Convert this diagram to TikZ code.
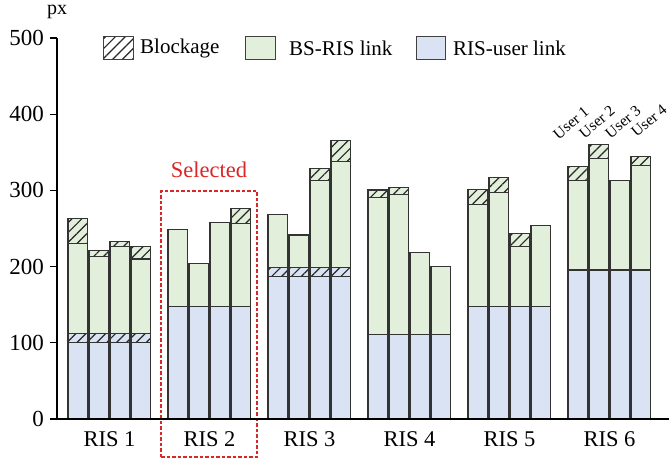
\documentclass[tikz,border=0pt]{standalone}
\usepackage{fontspec}
\setmainfont{Liberation Serif}
\usetikzlibrary{patterns.meta}
\definecolor{linkg}{HTML}{E2EFDA}
\definecolor{linkb}{HTML}{DAE3F3}
\definecolor{selred}{rgb}{0.85,0.15,0.15}
% one plain bar segment: x, bottom, top, colour
\newcommand\plainseg[4]{\draw[barline, fill=#4] (#1,#2) rectangle ({#1+19.5},#3);}
% one blocked segment: coloured ground with hatching on top
\newcommand\hatchseg[4]{\fill[#4] (#1,#2) rectangle ({#1+19.5},#3);
  \draw[barline, hatch] (#1,#2) rectangle ({#1+19.5},#3);}
\begin{document}
\begin{tikzpicture}[x=1pt,y=1pt,
  barline/.style={draw=black!80, line width=1.1pt},
  hatch/.style={pattern={Lines[angle=45,distance=7pt,line width=1.2pt]}, pattern color=black!85},
  lab/.style={font=\fontsize{21}{21}\selectfont, inner sep=0pt},
  ulab/.style={font=\fontsize{15.5}{15.5}\selectfont, inner sep=0pt, rotate=40}]
\useasboundingbox (0,0) rectangle (669,459);

% highlighted group
\begin{scope}[color=selred]
\draw[line width=1.2pt, dash pattern=on 3.5pt off 2pt] (161,2) -- (257,2) -- (257,268) -- (161,268) -- cycle;
\node[lab, font=\fontsize{22.5}{22.5}\selectfont] (sel) at (209,289) {Selected};
\end{scope}

% stacked bars: group, RIS-user top, its blockage top, {bar/BS-RIS top/total}
\begin{scope}[shift={(0,40)}, y=0.762pt]
\foreach \g/\b/\bb/\bars in {
  0/100/112/{0/230/263,1/213/221,2/226.5/232.5,3/210/226},
  1/148/148/{0/249/249,1/204/204,2/257.5/257.5,3/256/276},
  2/187.5/199/{0/268/268,1/241.5/241.5,2/312.5/328.5,3/338/365},
  3/111/111/{0/291/300.5,1/294.5/303.5,2/218/218,3/200/200},
  4/148/148/{0/281.5/301.5,1/297.5/316.5,2/226/243,3/253.5/253.5},
  5/195.5/195.5/{0/313/331,1/342/360.5,2/313/313,3/332.5/344}}{
  \foreach \i/\gt/\t in \bars {
    \pgfmathsetmacro\xl{68+100*\g+21*\i}
    \plainseg{\xl}{0}{\b}{linkb}
    \ifdim \bb pt > \b pt \hatchseg{\xl}{\b}{\bb}{linkb}\fi
    \plainseg{\xl}{\bb}{\gt}{linkg}
    \ifdim \t pt > \gt pt \hatchseg{\xl}{\gt}{\t}{linkg}\fi
  }
}
% y axis with ticks and labels
\draw[line width=1.3pt] (57,0) -- (57,500);
\foreach \v in {0,100,...,500}{
  \draw[line width=1.3pt] (50,\v) -- (57,\v);
  \node[lab, font=\fontsize{23}{23}\selectfont, anchor=east] (tick\v) at (44,\v) {\v};
}
\draw[line width=2.2pt] (50,0) -- (669,0);
\end{scope}

\node[lab, font=\fontsize{20}{20}\selectfont] (unit) at (57,447) {px};

% group labels
\foreach \g in {1,...,6}{
  \node[lab, font=\fontsize{22.5}{22.5}\selectfont] (ris\g) at ({9.5+100*\g},20) {RIS \g};
}

% user labels above the last group
\node[ulab] (u1) at (571,336) {User 1};
\node[ulab] (u2) at (597,337) {User 2};
\node[ulab] (u3) at (623,337) {User 3};
\node[ulab] (u4) at (649,338) {User 4};

% legend
\draw[draw=black!75, line width=1pt, hatch] (103,399.7) rectangle (133,422.3);
\node[lab, anchor=west] (lgblock) at (140,411) {Blockage};
\draw[draw=black!75, line width=1pt, fill=linkg] (245.3,399.7) rectangle (275,422.3);
\node[lab, anchor=west] (lgbs) at (289,411) {BS-RIS link};
\draw[draw=black!75, line width=1pt, fill=linkb] (416,399.7) rectangle (445.3,422.3);
\node[lab, anchor=west] (lguser) at (453,411) {RIS-user link};
\end{tikzpicture}
\end{document}
